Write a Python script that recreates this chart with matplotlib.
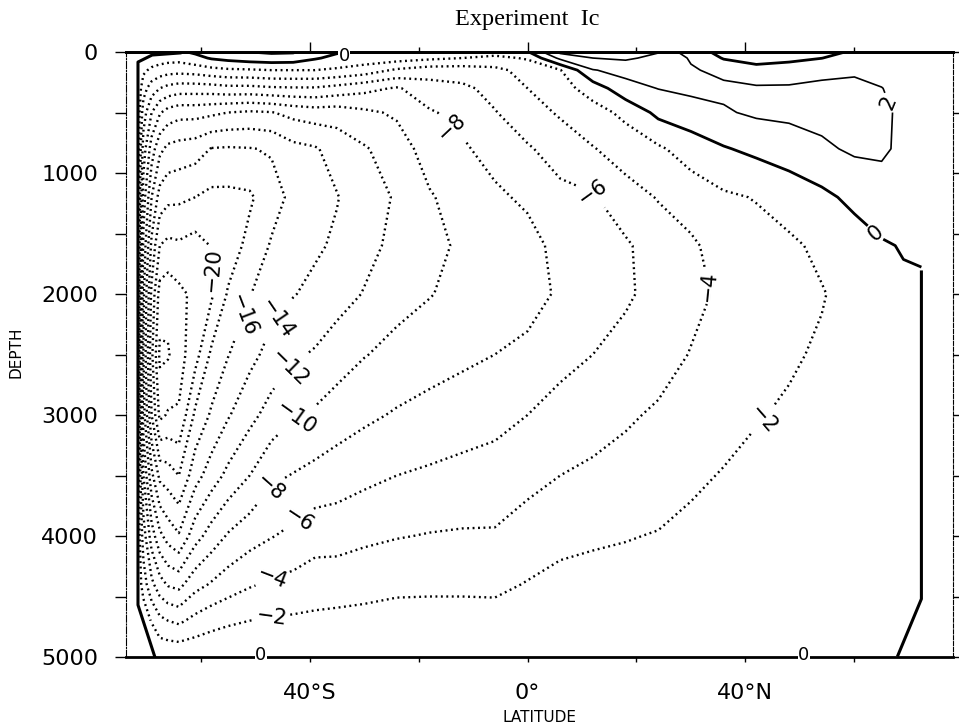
import numpy as np
import matplotlib.pyplot as plt

nan = np.nan

# latitude of each model column (deg, negative = south)
lat = [-71.6, -70.5, -69, -67.5, -66, -64, -61, -58, -55, -51, -47, -43, -39, -35,
       -30, -24, -18, -12, -6, 0, 6, 12, 18, 24, 30, 36, 42, 48, 54, 60, 65, 69,
       72.3]

# depth levels (m)
depth = [0, 50, 150, 300, 500, 800, 1200, 1600, 2000, 2500, 3000, 3500, 4000,
         4400, 4700, 5000]

# streamfunction profile for each latitude (Sv)
psi_by_lat = [
    [-0.3] * 14 + [nan, nan],                                                                   # -71.6
    [-0.3, -0.6, -1.6, -3.2, -5.0, -7.0, -9.0, -10.5, -11.5, -12.0, -11.0, -8.0, -5.0, -3.0, -0.5, nan],   # -70.5
    [-0.3, -0.8, -2.4, -5.0, -8.0, -11.0, -14.0, -16.5, -18.5, -19.5, -18.0, -13.5, -9.0, -5.5, -2.2, nan], # -69
    [-0.3, -1.0, -2.9, -6.0, -9.8, -13.5, -16.8, -20.0, -22.8, -24.4, -22.5, -16.5, -11.5, -7.2, -3.5, -0.3],  # -67.5
    [-0.3, -1.2, -3.2, -6.6, -10.8, -14.5, -17.5, -20.5, -23.2, -24.2, -21.8, -17.0, -12.8, -8.2, -4.0, -0.3], # -66
    [-0.3, -1.3, -3.3, -7.0, -11.3, -14.8, -17.6, -20.3, -22.5, -22.8, -21.8, -18.0, -13.8, -8.6, -4.4, -0.3], # -64
    [0.3, -0.6, -3.1, -7.0, -11.3, -15.1, -18.0, -20.8, -21.5, -20.8, -17.6, -14.8, -10.8, -6.7, -3.4, -0.3],  # -61
    [0.8, 0.2, -2.6, -6.9, -11.6, -16.1, -18.5, -19.9, -20.3, -17.6, -15.7, -13.0, -9.1, -5.8, -2.7, -0.3],    # -58
    [1.0, 0.6, -2.3, -6.6, -12.0, -16.2, -18.5, -19.1, -17.8, -16.1, -14.2, -11.5, -7.8, -5.0, -2.3, -0.3],    # -55
    [2.1, 1.0, -2.2, -6.6, -12.3, -16.1, -18.3, -17.4, -16.1, -14.6, -12.6, -10.0, -6.8, -4.2, -2.0, -0.3],    # -51
    [2.4, 1.2, -2.0, -6.3, -12.1, -15.8, -16.8, -15.8, -14.8, -13.3, -11.2, -8.4, -6.1, -3.7, -1.8, -0.3],     # -47
    [2.3, 1.1, -2.0, -6.2, -11.4, -14.6, -15.5, -14.8, -14.1, -12.3, -10.2, -7.9, -5.5, -3.4, -1.7, -0.3],     # -43
    [1.0, 0.2, -2.0, -6.2, -11.0, -14.2, -14.6, -14.3, -13.5, -11.8, -9.7, -7.4, -4.8, -3.0, -1.6, -0.3],      # -39
    [0.2, -0.5, -2.3, -6.7, -11.1, -13.2, -14.1, -13.7, -12.8, -11.0, -9.0, -7.0, -4.8, -2.9, -1.5, -0.3],     # -35
    [-0.3, -0.9, -2.9, -7.4, -10.4, -12.2, -12.9, -12.6, -11.9, -10.1, -8.4, -6.5, -4.4, -2.7, -1.4, -0.3],    # -30
    [-0.5, -1.1, -4.3, -8.2, -9.7, -11.0, -11.8, -11.5, -10.7, -9.4, -7.8, -6.0, -4.1, -2.4, -1.3, -0.3],      # -24
    [-0.6, -1.6, -5.0, -6.9, -8.2, -9.1, -10.2, -10.7, -10.1, -8.8, -7.4, -5.7, -3.9, -2.4, -1.2, -0.3],       # -18
    [-1.0, -2.0, -5.0, -6.4, -7.4, -8.3, -9.1, -9.6, -9.4, -8.4, -7.0, -5.4, -3.8, -2.4, -1.2, -0.3],          # -12
    [-1.2, -2.5, -4.5, -5.4, -6.1, -7.2, -8.4, -8.9, -8.7, -8.0, -6.6, -5.2, -3.8, -2.4, -1.3, -0.3],          # -6
    [-0.2, -1.8, -3.3, -4.0, -4.9, -6.2, -7.6, -8.8, -8.8, -7.5, -6.0, -4.6, -3.1, -1.9, -1.0, -0.3],          # 0
    [4.5, 2.5, -2.1, -2.8, -3.75, -5.2, -6.5, -7.3, -7.7, -6.6, -5.3, -4.0, -2.5, -1.5, -0.9, -0.3],          # 6
    [5.0, 4.0, 1.9, -1.1, -2.8, -4.1, -6.2, -6.8, -6.8, -6.0, -4.9, -3.6, -2.3, -1.3, -0.8, -0.3],            # 12
    [4.8, 4.3, 2.6, 1.3, -1.5, -3.2, -4.7, -6.3, -6.3, -5.3, -4.3, -3.2, -2.1, -1.3, -0.8, -0.3],             # 18
    [4.1, 3.5, 2.9, 2.05, 0.5, -2.3, -3.9, -4.9, -5.3, -4.9, -3.7, -2.95, -1.9, -1.2, -0.7, -0.3],            # 24
    [0.6, 1.8, 2.2, 2.4, 1.2, -1.1, -3.1, -4.3, -4.6, -3.9, -3.1, -2.3, -1.6, -1.0, -0.6, -0.3],              # 30
    [-0.4, -0.15, 1.5, 2.4, 1.8, -0.15, -2.3, -3.2, -3.6, -3.3, -2.6, -1.9, -1.4, -0.9, -0.6, -0.3],          # 36
    [-0.7, -0.5, 0.45, 2.3, 2.3, 0.45, -1.9, -2.7, -3.0, -2.8, -2.1, -1.6, -1.2, -0.8, -0.5, -0.3],           # 42
    [-0.6, -0.35, 0.7, 2.3, 2.4, 1.05, -1.24, -2.3, -2.5, -2.2, -1.8, -1.4, -1.0, -0.7, -0.5, -0.3],          # 48
    [-0.25, -0.03, 1.5, 2.4, 2.6, 1.67, -0.45, -1.65, -2.1, -1.8, -1.5, -1.2, -0.9, -0.6, -0.45, -0.3],       # 54
    [0.1, 0.8, 1.7, 2.5, 2.7, 2.3, 0.47, -0.9, -1.4, -1.4, -1.2, -1.0, -0.8, -0.6, -0.4, -0.3],               # 60
    [0.5, 0.8, 1.3, 2.05, 2.4, 2.3, 1.14, -0.2, -0.6, -0.8, -0.8, -0.7, -0.6, -0.5, -0.35, -0.3],             # 65
    [0.4, 0.6, 0.9, 1.3, 1.6, 1.6, 0.9, 0.12, -0.3, -0.4, -0.4, -0.4, -0.35, -0.3, -0.3, nan],                # 69
    [0.3, 0.4, 0.6, 0.8, 1.0, 1.0, 0.6, 0.2, -0.25, -0.3, -0.3, -0.3, -0.3, -0.3, nan, nan],                  # 72.3
]

# basin walls
west_wall_lat = [-68.4, -71.5, -71.5, -68.9, -63.8]
west_wall_depth = [5000, 4570, 83, 25, 8]
east_wall_lat = [68.0, 72.3, 72.3]
east_wall_depth = [4985, 4520, 1818]

levels = list(range(-24, 5, 2))

# contour labels: (level, lat, depth)
labels = [(-20, -59.2, 1800), (-16, -52.2, 2172), (-14, -46.0, 2205),
          (-12, -44.0, 2600), (-10, -42.6, 3015), (-8, -47.6, 3593),
          (-6, -42.0, 3866), (-4, -46.9, 4337), (-2, -46.9, 4667),
          (-8, -13.4, 595), (-6, 12.7, 1099), (-4, 33.8, 1925),
          (-2, 43.9, 3064), (2, 66.6, 413), (0, 64.4, 1463)]
zero_marks = [(-33.6, 30), (-49.0, 4985), (50.7, 4985)]

psi = np.ma.masked_invalid(np.array(psi_by_lat).T)

fig = plt.figure(figsize=(9.59, 7.28), dpi=100)
ax = fig.add_axes([126 / 959, 1 - 657 / 728, (953 - 126) / 959, (657 - 52) / 728])

sets = {}
for lev in levels:
    if lev < 0:
        cs = ax.contour(lat, depth, psi, levels=[lev], colors='k', linewidths=1.7)
        cs.set_linestyle((0, (0.8, 1.5)))
    elif lev == 0:
        cs = ax.contour(lat, depth, psi, levels=[lev], colors='k', linewidths=2.0)
    else:
        cs = ax.contour(lat, depth, psi, levels=[lev], colors='k', linewidths=1.2)
    sets[lev] = cs

ax.plot(west_wall_lat, west_wall_depth, color='k', lw=2.2)
ax.plot(east_wall_lat, east_wall_depth, color='k', lw=2.2)

def fmt(v):
    return '%d' % v if v >= 0 else '\u2212%d' % (-v)

for lev, x, y in labels:
    ax.clabel(sets[lev], manual=[(x, y)], inline=True, fmt=fmt,
              fontsize=15, inline_spacing=4)

for x, y in zero_marks:
    ax.text(x, y, '0', ha='center', va='center', fontsize=13,
            bbox=dict(fc='white', ec='none', pad=0.3), zorder=4)

ax.set_xlim(-73.7, 78.1)
ax.set_ylim(5000, 0)

ax.set_xticks([-40, 0, 40])
ax.set_xticklabels(['40\u00b0S', '0\u00b0', '40\u00b0N'])
ax.set_xticks([-60, -20, 20, 60], minor=True)
ax.tick_params(axis='x', which='both', direction='out', length=3.6, width=1,
               labelsize=16, pad=15)

top = ax.secondary_xaxis('top')
top.set_xticks([-40, 0, 40])
top.set_xticklabels([])
top.set_xticks([-60, -20, 20, 60], minor=True)
top.tick_params(axis='x', which='major', direction='out', length=7, width=1)
top.tick_params(axis='x', which='minor', direction='out', length=3.6, width=1)
top.spines['top'].set_linewidth(2)

ax.set_yticks(range(0, 5001, 1000))
ax.set_yticks(range(500, 5000, 1000), minor=True)
ax.tick_params(axis='y', which='both', direction='out', length=8, width=1,
               labelsize=16, pad=12, right=True)

ax.spines['top'].set_linewidth(2)
ax.spines['bottom'].set_linewidth(2)
ax.spines['left'].set_linewidth(0.8)
ax.spines['left'].set_linestyle('dashdot')
ax.spines['right'].set_linewidth(0.8)
ax.spines['right'].set_linestyle('dashed')

fig.text(527 / 959, 1 - 20 / 728, 'Experiment  Ic', family='Liberation Serif',
         fontsize=17.5, ha='center', va='center')
fig.text(539 / 959, 1 - 718 / 728, 'LATITUDE', fontsize=11, ha='center', va='center')
fig.text(16 / 959, 1 - 352 / 728, 'DEPTH', fontsize=11, rotation=90,
         ha='center', va='center')

fig.savefig('out.png', dpi=100)
